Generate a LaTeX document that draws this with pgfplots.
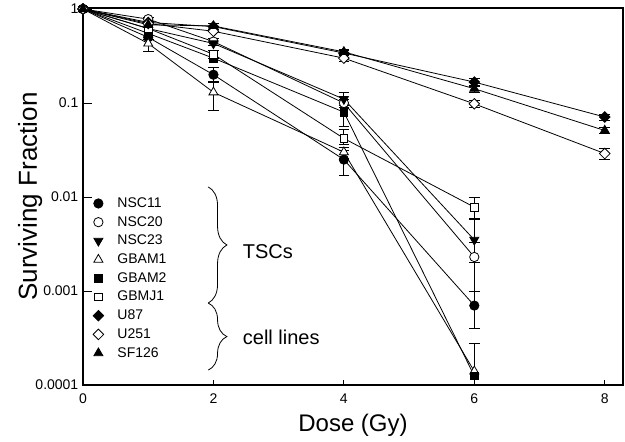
\documentclass[border=0pt]{standalone}
\usepackage{pgfplots}
\pgfplotsset{compat=1.18}
\usepackage{fontspec}
\setmainfont{Liberation Sans}
\usetikzlibrary{decorations.pathreplacing}
\begin{document}
\begin{tikzpicture}
\begin{axis}[
  scale only axis,
  width=405pt, height=282.75pt,
  ymode=log,
  xmin=0, xmax=8.28,
  ymin=1e-4, ymax=1.025,
  xtick={0,2,4,6,8},
  ytick={1,0.1,0.01,0.001,0.0001},
  yticklabels={1,0.1,0.01,0.001,0.0001},
  /pgf/number format/assume math mode=true,
  tick label style={font=\fontsize{10.5}{12}\selectfont},
  xticklabel style={yshift=-3pt},
  tick align=inside,
  tick pos=left,
  major tick length=7pt,
  minor tick length=4.5pt,
  xtick style={/pgfplots/major tick length=4pt},
  axis line style={line width=0.9pt},
  every tick/.style={black, line width=0.6pt},
  xlabel={Dose (Gy)},
  ylabel={Surviving Fraction},
  xlabel style={font=\fontsize{18}{20}\selectfont, at={(axis description cs:0.5,-0.106)}, anchor=center},
  ylabel style={font=\fontsize{19.5}{21}\selectfont, at={(axis description cs:-0.098,0.5)}, anchor=center},
  base/.style={black, solid, line width=0.6pt},
  error bars/error bar style={line width=0.6pt, black, solid},
  error bars/error mark options={rotate=90, mark size=4pt, line width=0.6pt, black, solid},
  legend style={draw=none, fill=none, font=\fontsize{10.5}{12}\selectfont,
    at={(axis description cs:0.01,0.512)}, anchor=north west, row sep=1.2pt},
  legend cell align=left,
  legend image code/.code={\draw[#1, only marks] plot coordinates {(0pt,0pt)}; \path (-4pt,0pt) (12pt,0pt);},
]
\coordinate (SW) at (rel axis cs:0,0);
\coordinate (NE) at (rel axis cs:1,1);
% NSC11
\addplot[base, mark=*, mark size=3.5pt, mark options={solid, fill=black}, error bars/.cd, y dir=both, y explicit] coordinates {
 (0,1) (1,0.5) (2,0.2) += (0,0.04) -= (0,0.03) (4,0.025) += (0,0.006) -= (0,0.008) (6,0.0007) += (0,0.0003) -= (0,0.0003)};
% NSC20
\addplot[base, mark=*, mark size=3.5pt, mark options={solid, fill=white}, error bars/.cd, y dir=both, y explicit] coordinates {
 (0,1) (1,0.78) += (0,0.04) -= (0,0.04) (2,0.45) += (0,0.04) -= (0,0.04) (4,0.10) += (0,0.01) -= (0,0.01) (6,0.0023) += (0,0.001) -= (0,0.0019)};
% NSC23
\addplot[base, mark=triangle*, mark size=3.9pt, mark options={solid, fill=black, rotate=180}, error bars/.cd, y dir=both, y explicit] coordinates {
 (0,1) (1,0.62) (2,0.43) (4,0.11) += (0,0.02) -= (0,0.015) (6,0.0035) += (0,0.0023) -= (0,0.0015)};
% GBAM1
\addplot[base, mark=triangle*, mark size=3.9pt, mark options={solid, fill=white}, error bars/.cd, y dir=both, y explicit] coordinates {
 (0,1) (1,0.43) += (0,0.05) -= (0,0.08) (2,0.13) += (0,0.035) -= (0,0.046) (4,0.03) += (0,0.004) -= (0,0.004) (6,0.00014) += (0,0.00014) -= (0,0.0001)};
% GBAM2
\addplot[base, mark=square*, mark size=2.9pt, mark options={solid, fill=black}, error bars/.cd, y dir=both, y explicit] coordinates {
 (0,1) (1,0.55) (2,0.30) (4,0.08) += (0,0.015) -= (0,0.023) (6,0.000125)};
% GBMJ1
\addplot[base, mark=square*, mark size=2.9pt, mark options={solid, fill=white}, error bars/.cd, y dir=both, y explicit] coordinates {
 (0,1) (1,0.62) (2,0.33) += (0,0.03) -= (0,0.03) (4,0.042) += (0,0.011) -= (0,0.006) (6,0.0078) += (0,0.0022) -= (0,0.0019)};
% U87
\addplot[base, mark=square*, mark size=2.8pt, mark options={solid, fill=black, rotate=45}, error bars/.cd, y dir=both, y explicit] coordinates {
 (0,1) (1,0.72) (2,0.65) += (0,0.05) -= (0,0.05) (4,0.34) += (0,0.02) -= (0,0.02) (6,0.167) += (0,0.015) -= (0,0.015) (8,0.071) += (0,0.005) -= (0,0.005)};
% U251
\addplot[base, mark=square*, mark size=2.8pt, mark options={solid, fill=white, rotate=45}, error bars/.cd, y dir=both, y explicit] coordinates {
 (0,1) (1,0.7) (2,0.58) (4,0.30) += (0,0.02) -= (0,0.02) (6,0.098) += (0,0.008) -= (0,0.008) (8,0.029) += (0,0.004) -= (0,0.004)};
% SF126
\addplot[base, mark=triangle*, mark size=3.9pt, mark options={solid, fill=black}, error bars/.cd, y dir=both, y explicit] coordinates {
 (0,1) (1,0.68) (2,0.66) += (0,0.05) -= (0,0.05) (4,0.35) += (0,0.02) -= (0,0.02) (6,0.142) += (0,0.012) -= (0,0.012) (8,0.051) += (0,0.004) -= (0,0.004)};
\legend{NSC11,NSC20,NSC23,GBAM1,GBAM2,GBMJ1,U87,U251,SF126}
\draw[line width=0.6pt, decorate, decoration={brace, amplitude=14pt}] (axis cs:1.92,0.0128) -- (axis cs:1.92,0.000745);
\draw[line width=0.6pt, decorate, decoration={brace, amplitude=14pt}] (axis cs:1.92,0.000745) -- (axis cs:1.92,0.000144);
\node[anchor=west, font=\fontsize{15}{17}\selectfont] at (axis cs:2.38,0.0026) {TSCs};
\node[anchor=west, font=\fontsize{15}{17}\selectfont] at (axis cs:2.38,0.000324) {cell lines};
\end{axis}
\pgfresetboundingbox
\path ([xshift=-62.25pt,yshift=-42.75pt]SW) rectangle ([xshift=1.5pt,yshift=6pt]NE);
\end{tikzpicture}
\end{document}
